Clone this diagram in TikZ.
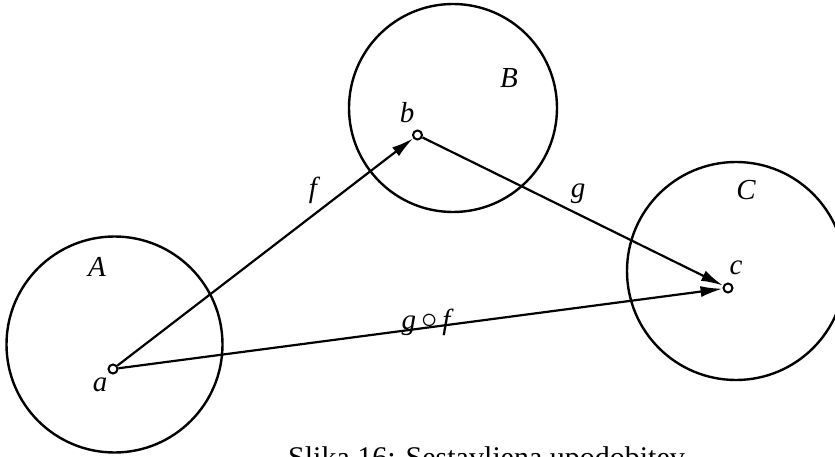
\documentclass[tikz,border=0pt]{standalone}
\usepackage{fontspec}
\setmainfont{Liberation Serif}
\usetikzlibrary{arrows.meta}
\begin{document}
\begin{tikzpicture}[x=1pt,y=-1pt,
  setbox/.style={draw,circle,line width=2.4pt,inner sep=0pt},
  pt/.style={draw,circle,fill=white,line width=2pt,minimum size=9pt,inner sep=0pt},
  lbl/.style={inner sep=0pt,font=\fontsize{29}{33}\selectfont\itshape},
  conn/.style={line width=2.2pt,-{Latex[length=22pt,width=11pt]}}]
\useasboundingbox (0,0) rectangle (835,457);
\node[setbox,minimum size=216pt] (SA) at (114.5,344.5) {};
\node[setbox,minimum size=208pt] (SB) at (453,108) {};
\node[setbox,minimum size=218pt] (SC) at (736,271) {};
\node[lbl] (lA) at (97,267) {A};
\node[lbl] (lB) at (509,78) {B};
\node[lbl] (lC) at (746,190) {C};
\node[pt] (a) at (113,369) {};
\node[pt] (b) at (417.5,135) {};
\node[pt] (c) at (728,288) {};
\node[lbl] (la) at (100,385) {a};
\node[lbl] (lb) at (407,113) {b};
\node[lbl] (lc) at (736,268) {c};
\draw[conn] (a) -- (b);
\draw[conn] (b) -- (c);
\draw[conn] (a) -- (c);
\node[lbl] (lf) at (313,190) {f};
\node[lbl] (lg) at (578,194) {g};
\node[lbl] (lgf) at (426,322) {g\hspace{5pt}\raisebox{1pt}{\scalebox{1.3}{\upshape$\circ$}}\hspace{5pt}f};
\node[inner sep=0pt,anchor=base west,font=\fontsize{30}{34}\selectfont] (cap) at (288,467) {Slika 16: Sestavljena upodobitev};
\end{tikzpicture}
\end{document}
